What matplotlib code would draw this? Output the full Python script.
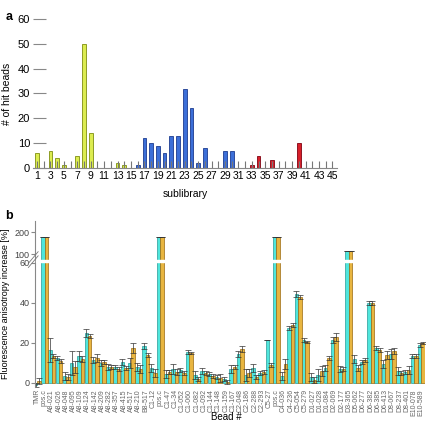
import numpy as np
import matplotlib
matplotlib.use("Agg")
import matplotlib.pyplot as plt

plt.rcParams['font.family'] = ['Liberation Sans', 'DejaVu Sans']

# ---- panel a: hits per sublibrary ----
sublibrary = list(range(1, 46))
hit_beads = [6, 0, 7, 4, 1, 0, 5, 50, 14, 0, 0, 0, 2, 1, 0,
             1, 12, 10, 9, 6, 13, 13, 32, 24, 2, 8, 0, 0, 7, 7,
             0, 0, 1, 5, 0, 3, 0, 0, 0, 10, 0, 0, 0, 0, 0]
group_of_lib = ['A'] * 15 + ['B'] * 15 + ['C'] * 15

# ---- panel b: anisotropy increase per bead ----
beads = ['TMR', 'pos.c', 'A8-021', 'A8-026', 'A8-048', 'A8-095', 'A8-109',
         'A8-124', 'A8-142', 'A8-209', 'A8-282', 'A8-357', 'A8-415', 'A8-517',
         'A8-210', 'B8-517', 'C1-12', 'pos.c', 'C1-47', 'C1-34', 'C1-052',
         'C1-060', 'C1-082', 'C1-092', 'C1-144', 'C1-148', 'C1-159', 'C1-167',
         'C2-048', 'C2-186', 'C2-288', 'C2-293', 'C5-27', 'pos.c', 'C4-036',
         'C4-236', 'C5-054', 'C5-279', 'D1-027', 'D1-028', 'D1-084', 'D2-069',
         'D2-177', 'D3-365', 'D5-062', 'D6-277', 'D6-382', 'D6-385', 'D6-413',
         'D8-067', 'D8-237', 'D8-401', 'E10-078', 'E10-589']
cyan_vals = [-1, 178, 16.5, 12.7, 3.5, 10, 13.5, 25, 11.5, 10, 8, 8, 10.5, 10,
             8, 18.7, 7.5, 178, 4.5, 7, 6.5, 15.5, 4, 6, 4.5, 3, 2, 7,
             14.5, 4, 7.3, 5, 21.5, 178, 3.7, 27.3, 44.3, 21.5, 3.2, 4, 7.3, 21.5,
             6.8, 113, 12, 10.5, 40, 17.3, 9.5, 14.5, 6, 5.7, 13.5, 19]
cyan_err = [1, 1, 6, 1, 2, 6, 2.5, 2, 1.5, 1.5, 1.5, 1, 1.5, 2.5,
            2, 1.5, 2, 1, 2, 2.5, 1, 1, 2, 1.5, 1, 1, 1, 2,
            1.5, 3, 2, 1, 0, 1, 2, 1, 1.5, 1, 2, 3, 1.5, 1.5,
            1.5, 1, 2, 1, 1, 1, 2, 2.5, 2, 1, 1, 1]
orange_vals = [1, 178, 13.5, 11, 2.8, 8, 12, 23.5, 12.5, 10.5, 8, 7, 7.5, 17.5,
               7, 14, 5, 178, 5.7, 5.7, 5, 15, 2, 5, 3.5, 2.5, 0.7, 8,
               17, 5, 3, 5.5, 9, 178, 9.3, 29, 42.7, 20.7, 1.5, 6, 12.3, 23,
               6.8, 113, 7.3, 11.5, 40, 16.5, 14, 16, 4.8, 6.5, 13.5, 19.8]
orange_err = [1.5, 1, 1, 1, 1.5, 3, 1.5, 1, 2, 1, 1, 1, 1, 2.5,
              2, 1, 2, 1, 1, 1.5, 1, 0.5, 1, 1, 1, 2, 1, 1,
              1.5, 2, 1, 1, 1, 1, 2.5, 1, 1, 0.5, 1.5, 2.5, 1, 2,
              1, 1, 1.5, 1, 1, 1, 2, 1.5, 1, 2, 1, 0.5]

lib_colors = {'A': ('#dcec50', '#7f8f10'),
              'B': ('#3c6fd8', '#1c3c90'),
              'C': ('#d8202a', '#800010')}


def fwd(v):
    v = np.asarray(v, dtype=float)
    return np.where(v <= 60, v, 60 + (v - 60) * 0.11)


def inv(y):
    y = np.asarray(y, dtype=float)
    return np.where(y <= 60, y, 60 + (y - 60) / 0.11)


fig = plt.figure(figsize=(4.28, 4.24), dpi=100)

# ---------- a ----------
ax1 = fig.add_axes([0.077, 0.604, 0.710, 0.351])
fills = [lib_colors[g][0] for g in group_of_lib]
edges = [lib_colors[g][1] for g in group_of_lib]
ax1.bar(sublibrary, hit_beads, width=0.55, color=fills, edgecolor=edges, linewidth=0.6)
ax1.set_xlim(0.4, 45.65)
ax1.set_ylim(0, 60)
ax1.set_yticks([0, 10, 20, 30, 40, 50, 60])
ax1.set_xticks(sublibrary)
ax1.set_xticklabels([str(s) if s % 2 == 1 else '' for s in sublibrary])
for s in ['top', 'right', 'left']:
    ax1.spines[s].set_visible(False)
ax1.spines['bottom'].set_color('#888888')
ax1.tick_params(axis='x', direction='in', length=5, color='#777777', labelsize=7.5, pad=2)
ax1.tick_params(axis='y', direction='in', length=9, color='#888888', labelsize=8, pad=2)
ax1.set_xlabel('sublibrary', fontsize=7.5, labelpad=6)
ax1.set_ylabel('# of hit beads', fontsize=7.5, labelpad=4)
fig.text(0.012, 0.975, 'a', fontsize=9, fontweight='bold', va='top')

# ---------- b ----------
ax2 = fig.add_axes([0.0818, 0.0873, 0.911, 0.3915])
ax2.set_yscale('function', functions=(fwd, inv))
x = np.arange(len(beads))
w = 0.48
ax2.bar(x - w / 2, cyan_vals, width=w, color='#4fe6dc', edgecolor='#2a9a98', linewidth=0.5)
ax2.bar(x + w / 2, orange_vals, width=w, color='#e8b540', edgecolor='#9a6a10', linewidth=0.5)
ax2.errorbar(x - w / 2, cyan_vals, yerr=cyan_err, fmt='none', ecolor='#333333',
             elinewidth=0.5, capsize=2, capthick=0.5)
ax2.errorbar(x + w / 2, orange_vals, yerr=orange_err, fmt='none', ecolor='#333333',
             elinewidth=0.5, capsize=2, capthick=0.5)
ax2.set_xlim(-0.31, 53.5)
ax2.set_ylim(-2, 250)
ax2.set_yticks([0, 20, 40, 60, 100, 200])
ax2.set_xticks(x)
ax2.set_xticklabels(beads, rotation=90, fontsize=5, color='#666666')
ax2.tick_params(axis='x', length=0, pad=1.5)
ax2.tick_params(axis='y', direction='out', length=3, color='#888888',
                labelsize=6.5, labelcolor='#444444', pad=1)
for s in ['top', 'right', 'bottom']:
    ax2.spines[s].set_visible(False)
ax2.spines['left'].set_color('#888888')

# axis break
ax2.axhspan(65, 74, xmin=0.003, color='white', zorder=4)
ax2.plot([-0.017, 0.008], [0.72, 0.79], transform=ax2.transAxes, color='#777777',
         lw=0.6, clip_on=False, zorder=5)
ax2.plot([-0.017, 0.008], [0.745, 0.815], transform=ax2.transAxes, color='#777777',
         lw=0.6, clip_on=False, zorder=5)

ax2.set_ylabel('Fluorescence anisotropy increase [%]', fontsize=6.5, labelpad=3)
fig.text(0.528, 0.004, 'Bead #', fontsize=7, ha='center', va='bottom')
fig.text(0.012, 0.505, 'b', fontsize=9, fontweight='bold', va='top')

fig.savefig('out.png', dpi=100)
